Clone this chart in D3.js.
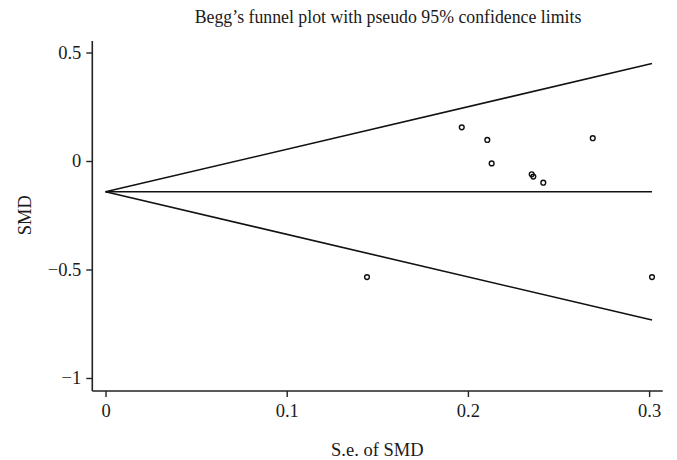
<!DOCTYPE html>
<html><head><meta charset="utf-8">
<script src="https://cdn.jsdelivr.net/npm/d3@7"></script>
<style>body{margin:0;background:#fff}svg{display:block}text{font-family:"Liberation Serif","Times New Roman",serif;fill:#1a1a1a}</style>
</head><body>
<script>
const title = "Begg\u2019s funnel plot with pseudo 95% confidence limits";
const xLabel = "S.e. of SMD";
const yLabel = "SMD";
const seValues = [0.1443, 0.1966, 0.2107, 0.2131, 0.2352, 0.2361, 0.2416, 0.2689, 0.3016];
const smdValues = [-0.535, 0.155, 0.097, -0.011, -0.061, -0.072, -0.100, 0.105, -0.535];
const pooled = -0.142;
const xTicks = [0, 0.1, 0.2, 0.3];
const yTicks = [-1, -0.5, 0, 0.5];
const xTickLabels = ["0", "0.1", "0.2", "0.3"];
const yTickLabels = ["\u22121", "\u22120.5", "0", "0.5"];

const W = 677, H = 460;
const svg = d3.select("body").append("svg").attr("width", W).attr("height", H);
const x = d3.scaleLinear().domain([-0.0073, 0.3075]).range([92.3, 662.7]);
const y = d3.scaleLinear().domain([-1.06, 0.553]).range([391, 41]);

svg.append("text").attr("x", 388).attr("y", 23).attr("text-anchor", "middle")
  .attr("font-size", 17.8).text(title);

const xAxis = d3.axisBottom(x).tickValues(xTicks).tickFormat((d,i)=>xTickLabels[i]).tickSize(6).tickPadding(7);
const gx = svg.append("g").attr("transform", "translate(0,391)").call(xAxis);
const yAxis = d3.axisLeft(y).tickValues(yTicks).tickFormat((d,i)=>yTickLabels[i]).tickSize(6).tickPadding(5);
const gy = svg.append("g").attr("transform", "translate(92.3,0)").call(yAxis);
[gx, gy].forEach(g => {
  g.select(".domain").attr("stroke", "#222").attr("stroke-width", 1.6);
  g.selectAll(".tick line").attr("stroke", "#222").attr("stroke-width", 1.4);
  g.selectAll(".tick text").attr("font-size", 18.5).attr("font-family", "Liberation Serif").attr("fill", "#1a1a1a");
});
gy.select(".domain").attr("d", `M0,${y.range()[1]}V${y.range()[0]}`);
gx.select(".domain").attr("d", `M${x.range()[0]},0H${x.range()[1]}`);

svg.append("text").attr("x", x(0.15)).attr("y", 456).attr("text-anchor", "middle")
  .attr("font-size", 18.5).text(xLabel);
svg.append("text").attr("transform", `translate(31,${y(-0.25)}) rotate(-90)`)
  .attr("text-anchor", "middle").attr("font-size", 18.5).text(yLabel);

const maxSe = d3.max(seValues);
const line = d3.line().x(d => x(d[0])).y(d => y(d[1]));
const lines = [
  [[0, pooled], [maxSe, pooled + 1.96 * maxSe]],
  [[0, pooled], [maxSe, pooled]],
  [[0, pooled], [maxSe, pooled - 1.96 * maxSe]]
];
svg.selectAll("path.fl").data(lines).enter().append("path").attr("class", "fl")
  .attr("d", line).attr("fill", "none").attr("stroke", "#111").attr("stroke-width", 1.6);

svg.selectAll("circle").data(seValues.map((s, i) => [s, smdValues[i]])).enter().append("circle")
  .attr("cx", d => x(d[0])).attr("cy", d => y(d[1])).attr("r", 2.4)
  .attr("fill", "none").attr("stroke", "#111").attr("stroke-width", 1.4);
</script>
</body></html>
